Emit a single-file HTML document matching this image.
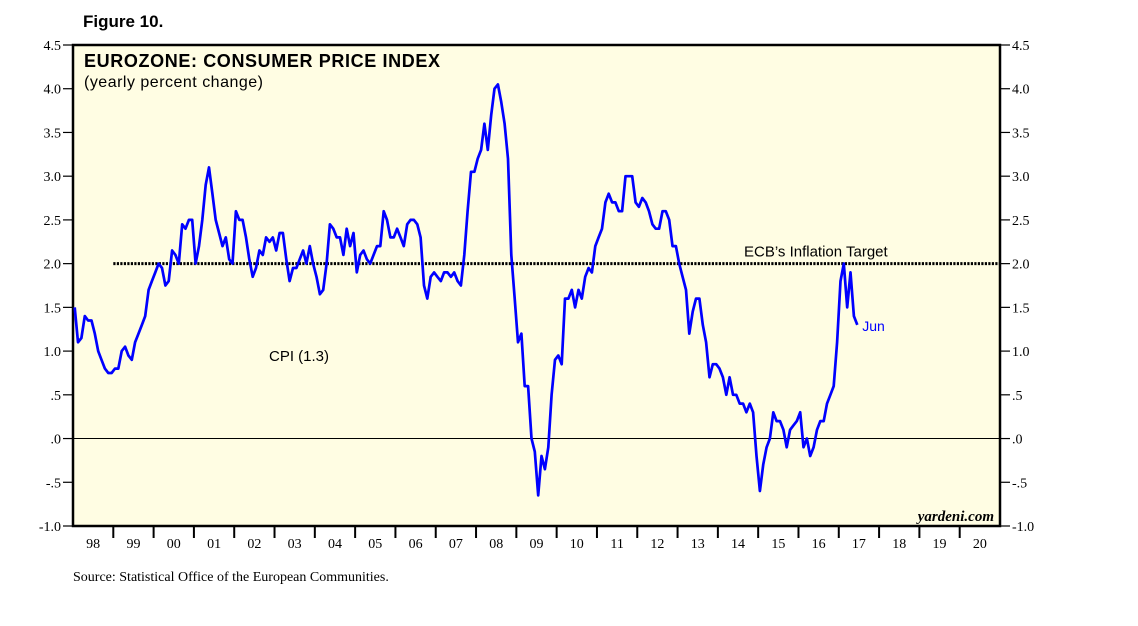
<!DOCTYPE html>
<html><head><meta charset="utf-8"><style>
body{margin:0;background:#fff;}
svg{display:block;}
</style></head><body>
<svg id="c" width="1138" height="626" xmlns="http://www.w3.org/2000/svg">
<text x="83" y="27" font-family="Liberation Sans, sans-serif" font-weight="bold" font-size="17">Figure 10.</text>
<rect x="73" y="45" width="927" height="481" fill="#fffde3" stroke="#000" stroke-width="2.5"/>
<text x="84" y="67" font-family="Liberation Sans, sans-serif" font-weight="bold" font-size="18" textLength="356">EUROZONE: CONSUMER PRICE INDEX</text>
<text x="84" y="87" font-family="Liberation Sans, sans-serif" font-size="16" textLength="179">(yearly percent change)</text>
<text x="73" y="581" font-family="Liberation Serif, serif" font-size="14">Source: Statistical Office of the European Communities.</text>
<text x="994" y="521" text-anchor="end" font-family="Liberation Serif, serif" font-style="italic" font-weight="bold" font-size="15">yardeni.com</text>
<g id="axes"></g>
<g id="marks"></g>
</svg>
<script>
const yTicks=[-1,-0.5,0,0.5,1,1.5,2,2.5,3,3.5,4,4.5];
const yTickLabels=["-1.0","-.5",".0",".5","1.0","1.5","2.0","2.5","3.0","3.5","4.0","4.5"];
const yearLabels=["98","99","00","01","02","03","04","05","06","07","08","09","10","11","12","13","14","15","16","17","18","19","20"];
const target=2.0;
const cpi=[
1.5,1.1,1.15,1.4,1.35,1.35,1.2,1.0,0.9,0.8,0.75,0.75,
0.8,0.8,1.0,1.05,0.95,0.9,1.1,1.2,1.3,1.4,1.7,1.8,
1.9,2.0,1.95,1.75,1.8,2.15,2.1,2.0,2.45,2.4,2.5,2.5,
2.0,2.2,2.5,2.9,3.1,2.8,2.5,2.35,2.2,2.3,2.05,2.0,
2.6,2.5,2.5,2.3,2.05,1.85,1.95,2.15,2.1,2.3,2.25,2.3,
2.15,2.35,2.35,2.05,1.8,1.95,1.95,2.05,2.15,2.0,2.2,2.0,
1.85,1.65,1.7,2.0,2.45,2.4,2.3,2.3,2.1,2.4,2.2,2.35,
1.9,2.1,2.15,2.05,2.0,2.1,2.2,2.2,2.6,2.5,2.3,2.3,
2.4,2.3,2.2,2.45,2.5,2.5,2.45,2.3,1.75,1.6,1.85,1.9,
1.85,1.8,1.9,1.9,1.85,1.9,1.8,1.75,2.1,2.6,3.05,3.05,
3.2,3.3,3.6,3.3,3.7,4.0,4.05,3.85,3.6,3.2,2.1,1.6,
1.1,1.2,0.6,0.6,0.0,-0.15,-0.65,-0.2,-0.35,-0.1,0.5,0.9,
0.95,0.85,1.6,1.6,1.7,1.5,1.7,1.6,1.85,1.95,1.9,2.2,
2.3,2.4,2.7,2.8,2.7,2.7,2.6,2.6,3.0,3.0,3.0,2.7,
2.65,2.75,2.7,2.6,2.45,2.4,2.4,2.6,2.6,2.5,2.2,2.2,
2.0,1.85,1.7,1.2,1.45,1.6,1.6,1.3,1.1,0.7,0.85,0.85,
0.8,0.7,0.5,0.7,0.5,0.5,0.4,0.4,0.3,0.4,0.3,-0.2,
-0.6,-0.3,-0.1,0.0,0.3,0.2,0.2,0.1,-0.1,0.1,0.15,0.2,
0.3,-0.1,0.0,-0.2,-0.1,0.1,0.2,0.2,0.4,0.5,0.6,1.1,
1.8,2.0,1.5,1.9,1.4,1.3];
const NS="http://www.w3.org/2000/svg";
const X0=73,X1=1000,Y0=526,Y1=45,yMin=-1,yMax=4.5;
const yearW=(X1-X0)/yearLabels.length;
function y(v){return Y0-(v-yMin)/(yMax-yMin)*(Y0-Y1);}
function xm(i){return X0+(i+0.5)/12*yearW;}
function mk(tag,at,parent){const e=document.createElementNS(NS,tag);for(const k in at)e.setAttribute(k,at[k]);parent.appendChild(e);return e;}
const ax=document.getElementById('axes'),mg=document.getElementById('marks');
yTicks.forEach((t,i)=>{
 const yy=y(t);
 let l=mk('line',{x1:X0-10,x2:X0,y1:yy,y2:yy,stroke:'#000','stroke-width':1.2},ax);
 
 
 let r=mk('line',{x1:X1,x2:X1+10,y1:yy,y2:yy,stroke:'#000','stroke-width':1.2},ax);
 
 
 let tl=mk('text',{x:X0-12,y:yy+5,'text-anchor':'end','font-family':'Liberation Serif, serif','font-size':14},ax);
 tl.textContent=yTickLabels[i];
 
 
 let tr=mk('text',{x:X1+12,y:yy+5,'font-family':'Liberation Serif, serif','font-size':14},ax);
 tr.textContent=yTickLabels[i];
 
 
});
yearLabels.forEach((lab,i)=>{
 const xs=X0+i*yearW;
 if(i>0){let t=mk('line',{x1:xs,x2:xs,y1:Y0,y2:Y0+12,stroke:'#000','stroke-width':2},ax);
 
 }
 let tx=mk('text',{x:xs+yearW/2,y:Y0+22,'text-anchor':'middle','font-family':'Liberation Serif, serif','font-size':14},ax);
 tx.textContent=lab;
 
 
});
let z=mk('line',{x1:X0,x2:X1,y1:y(0),y2:y(0),stroke:'#000','stroke-width':1},mg);


let tg=mk('line',{x1:X0+yearW,x2:X1,y1:y(target),y2:y(target),stroke:'#000','stroke-width':3,'stroke-dasharray':'2.2 1.3'},mg);


let tt=mk('text',{x:744,y:y(target)-7,'font-family':'Liberation Sans, sans-serif','font-size':15},mg);
tt.textContent="ECB\u2019s Inflation Target";


let p=mk('polyline',{points:cpi.map((v,i)=>xm(i).toFixed(1)+','+y(v).toFixed(1)).join(' '),fill:'none',stroke:'#0000ff','stroke-width':2.7,'stroke-linejoin':'round'},mg);


let cl=mk('text',{x:269,y:361,'font-family':'Liberation Sans, sans-serif','font-size':15},mg);
cl.textContent="CPI ("+cpi[cpi.length-1].toFixed(1)+")";


let jl=mk('text',{x:xm(cpi.length-1)+5,y:y(cpi[cpi.length-1])+6,'font-family':'Liberation Sans, sans-serif','font-size':14,fill:'#0000ff'},mg);
jl.textContent="Jun";


</script>
</body></html>
